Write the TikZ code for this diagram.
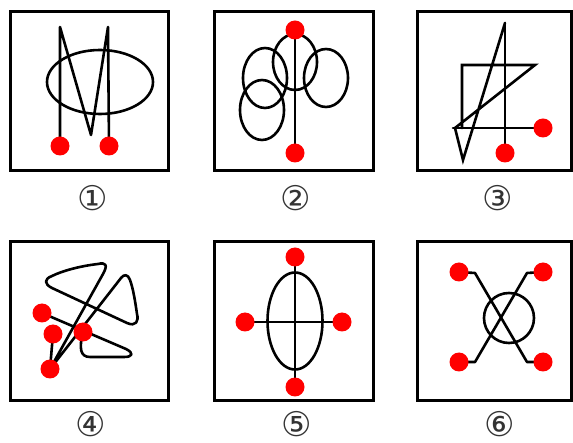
\documentclass[tikz,border=0pt]{standalone}
\usepackage{fontspec}
\newfontfamily\circfont{DejaVu Sans}
\tikzset{
  frame/.style={draw=black, line width=3pt},
  fig/.style={draw=black, line width=2.6pt, line join=round, line cap=round},
  dot/.style={fill=red, draw=none},
  lbl/.style={font=\circfont\fontsize{34}{34}\selectfont, inner sep=0pt, text=black!80, anchor=base}
}
\begin{document}
\begin{tikzpicture}[x=1pt, y=-1pt]
\useasboundingbox (0,0) rectangle (573,443);
% ---------- frames ----------
\draw[frame] (10,12) rectangle (168,171);
\draw[frame] (214,12) rectangle (373,171);
\draw[frame] (417,12) rectangle (571,171);
\draw[frame] (10,242) rectangle (168,401);
\draw[frame] (214,242) rectangle (373,401);
\draw[frame] (417,242) rectangle (571,401);
% ---------- labels ----------
\node[lbl] (l1) at (93,211) {①};
\node[lbl] (l2) at (296,211) {②};
\node[lbl] (l3) at (498,211) {③};
\node[lbl] (l4) at (91,436) {④};
\node[lbl] (l5) at (297,436) {⑤};
\node[lbl] (l6) at (500,436) {⑥};
% ---------- figure 1 ----------
\coordinate (a1) at (60,146);
\coordinate (a2) at (109,146);
\draw[fig] (100,82) ellipse [x radius=53, y radius=32];
\draw[fig] (a1) -- (60,27) -- (91,135) -- (108,27) -- (a2);
\fill[dot] (a1) circle[radius=9.5];
\fill[dot] (a2) circle[radius=9.5];
% ---------- figure 2 ----------
\coordinate (b1) at (295,30);
\coordinate (b2) at (295,153);
\draw[fig] (295,62) ellipse [x radius=22, y radius=28];
\draw[fig] (265,78) ellipse [x radius=22, y radius=30];
\draw[fig] (262,110) ellipse [x radius=22, y radius=30];
\draw[fig] (326,78) ellipse [x radius=22, y radius=29];
\draw[fig] (b1) -- (b2);
\fill[dot] (b1) circle[radius=9.5];
\fill[dot] (b2) circle[radius=9.5];
% ---------- figure 3 ----------
\coordinate (c1) at (543,128);
\coordinate (c2) at (505,153);
\coordinate (ct) at (505,23);
\draw[fig, line join=miter] (ct) -- (463,160) -- (455,128) -- (535,65) -- (462,65) -- (462,128);
\draw[fig] (453,128) -- (c1);
\draw[fig] (ct) -- (c2);
\fill[dot] (c1) circle[radius=9.5];
\fill[dot] (c2) circle[radius=9.5];
% ---------- figure 4 ----------
\coordinate (dA) at (42,313);
\coordinate (dB) at (53,334);
\coordinate (dC) at (83,332);
\coordinate (dD) at (50,369);
\draw[fig] (dD) -- (103,274) .. controls (108,265) and (106,262) .. (98,264)
  .. controls (80,266) and (62,271) .. (52,276)
  .. controls (44,279) and (44,284) .. (52,288) -- (127,323)
  .. controls (136,327) and (139,321) .. (137,314)
  .. controls (135,300) and (133,288) .. (130,280)
  .. controls (128,274) and (124,274) .. (121,278) -- (dD);
\draw[fig] (dA) -- (126,349) .. controls (134,353) and (133,357) .. (124,357)
  -- (90,357) .. controls (80,357) and (79,348) .. (dC);
\draw[fig] (dB) -- (dD);
\fill[dot] (dA) circle[radius=9.5];
\fill[dot] (dB) circle[radius=9.5];
\fill[dot] (dC) circle[radius=9.5];
\fill[dot] (dD) circle[radius=9.5];
% ---------- figure 5 ----------
\coordinate (e1) at (295,257);
\coordinate (e2) at (295,387);
\coordinate (e3) at (245,322);
\coordinate (e4) at (342,322);
\draw[fig] (295,321) ellipse [x radius=27.5, y radius=48.5];
\draw[fig] (e1) -- (e2);
\draw[fig] (e3) -- (e4);
\fill[dot] (e1) circle[radius=9.5];
\fill[dot] (e2) circle[radius=9.5];
\fill[dot] (e3) circle[radius=9.5];
\fill[dot] (e4) circle[radius=9.5];
% ---------- figure 6 ----------
\coordinate (f1) at (459,272);
\coordinate (f2) at (543,272);
\coordinate (f3) at (459,362);
\coordinate (f4) at (543,362);
\draw[fig] (509,318) circle[radius=25];
\draw[fig] (f1) -- (475,273) -- (527,362) -- (f4);
\draw[fig] (f2) -- (527,273) -- (475,362) -- (f3);
\fill[dot] (f1) circle[radius=9.5];
\fill[dot] (f2) circle[radius=9.5];
\fill[dot] (f3) circle[radius=9.5];
\fill[dot] (f4) circle[radius=9.5];
\end{tikzpicture}
\end{document}
